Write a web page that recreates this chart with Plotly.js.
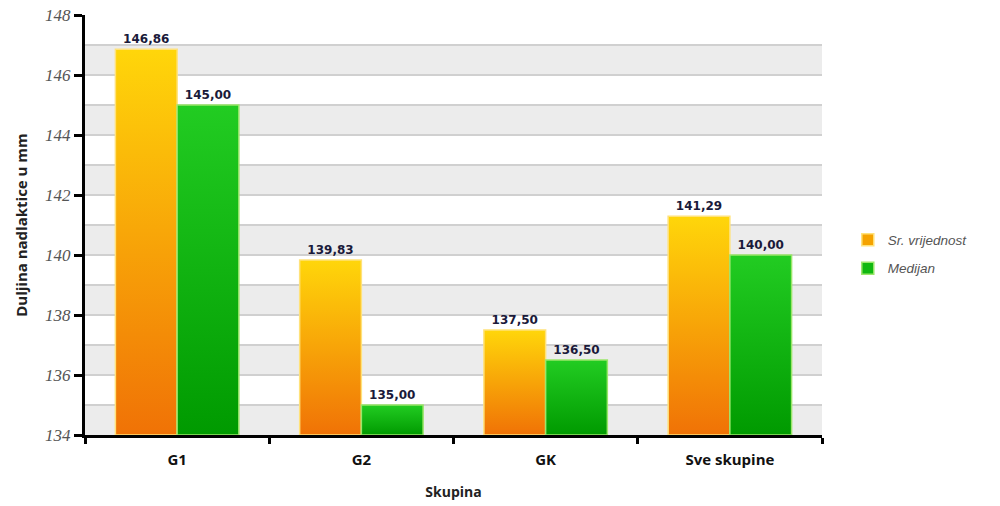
<!DOCTYPE html>
<html><head><meta charset="utf-8">
<script src="https://cdn.plot.ly/plotly-3.0.1.min.js"></script>
<style>body{margin:0;background:#fff}#c{width:1000px;height:506px}</style>
</head><body><div id="c"></div>
<script>
const categories = ["G1", "G2", "GK", "Sve skupine"];
const meanValues = [146.86, 139.83, 137.50, 141.29];
const medianValues = [145.00, 135.00, 136.50, 140.00];
const seriesNames = ["Sr. vrijednost", "Medijan"];
const yMin = 134, yMax = 148;

function fmt(v){ return v.toFixed(2).replace('.', ','); }

const bands = [];
for (let v = yMin; v < yMax; v += 2) {
  bands.push({type:'rect', xref:'paper', yref:'y', x0:0, x1:1, y0:v, y1:v+1,
    fillcolor:'#ececec', line:{width:0}, layer:'below'});
}

function barTrace(name, vals, color, edge, grp){
  return {type:'bar', name:name, x:categories, legendgroup:grp,
    y:vals.map(function(v){ return v - yMin; }), base:yMin,
    text:vals.map(fmt), textposition:'outside', cliponaxis:false,
    textfont:{family:'DejaVu Sans', size:12, color:'#1a1a3a', weight:'bold'},
    marker:{color:color, line:{color:edge, width:1.5}}};
}

const traces = [
  barTrace(seriesNames[0], meanValues, '#f5a300', '#ffe27a', 'a'),
  barTrace(seriesNames[1], medianValues, '#10b810', '#9ae66a', 'b')
];

const layout = {
  width:1000, height:506,
  margin:{l:85, r:178, t:15, b:71},
  paper_bgcolor:'#fff', plot_bgcolor:'#fff',
  barmode:'group', bargap:0.33, bargroupgap:0,
  showlegend:true,
  legend:{x:1.035, y:0.43, xanchor:'left', yanchor:'middle',
    font:{family:'Liberation Sans', size:13.5, color:'#555', style:'italic'},
    itemwidth:30, tracegroupgap:8, traceorder:'grouped'},
  xaxis:{showline:true, linecolor:'#000', linewidth:3, ticks:'outside', tickson:'boundaries',
    ticklen:6, tickwidth:3, tickcolor:'#000', ticklabelstandoff:9,
    tickfont:{family:'Open Sans', size:15, color:'#111', weight:'bold'},
    title:{text:'Skupina', font:{family:'Open Sans', size:14, color:'#222', weight:'bold'}, standoff:20}},
  yaxis:{range:[yMin, yMax], dtick:2, showline:true, linecolor:'#000', linewidth:3,
    ticks:'outside', ticklen:8, tickwidth:3, tickcolor:'#000',
    showgrid:true, gridcolor:'#d0d0d0', gridwidth:1.5, zeroline:false,
    tickfont:{family:'Liberation Serif', size:17, color:'#555', style:'italic'},
    title:{text:'Duljina nadlaktice u mm', font:{family:'Open Sans', size:15, color:'#222', weight:'bold'}, standoff:14},
    minor:{dtick:1, showgrid:true, gridcolor:'#d0d0d0', gridwidth:1.5}},
  shapes:bands
};

Plotly.newPlot('c', traces, layout, {displayModeBar:false, staticPlot:true}).then(function(gd){
  const svg = gd.querySelector('svg.main-svg');
  const ns = 'http://www.w3.org/2000/svg';
  let defs = svg.querySelector('defs');
  if (!defs) { defs = document.createElementNS(ns, 'defs'); svg.insertBefore(defs, svg.firstChild); }
  function grad(id, top, bottom){
    const g = document.createElementNS(ns, 'linearGradient');
    g.setAttribute('id', id); g.setAttribute('x1','0'); g.setAttribute('y1','0'); g.setAttribute('x2','0'); g.setAttribute('y2','1');
    [[0, top],[1, bottom]].forEach(function(s){
      const st = document.createElementNS(ns, 'stop');
      st.setAttribute('offset', s[0]); st.setAttribute('stop-color', s[1]);
      g.appendChild(st);
    });
    defs.appendChild(g);
  }
  grad('gOrange', '#ffd60a', '#f07206');
  grad('gGreen', '#22cc22', '#009a00');
  const tr = gd.querySelectorAll('g.trace.bars');
  tr.forEach(function(t, i){
    t.querySelectorAll('g.point path').forEach(function(p){
      p.style.fill = 'url(#' + (i === 0 ? 'gOrange' : 'gGreen') + ')';
    });
  });
});
</script></body></html>
